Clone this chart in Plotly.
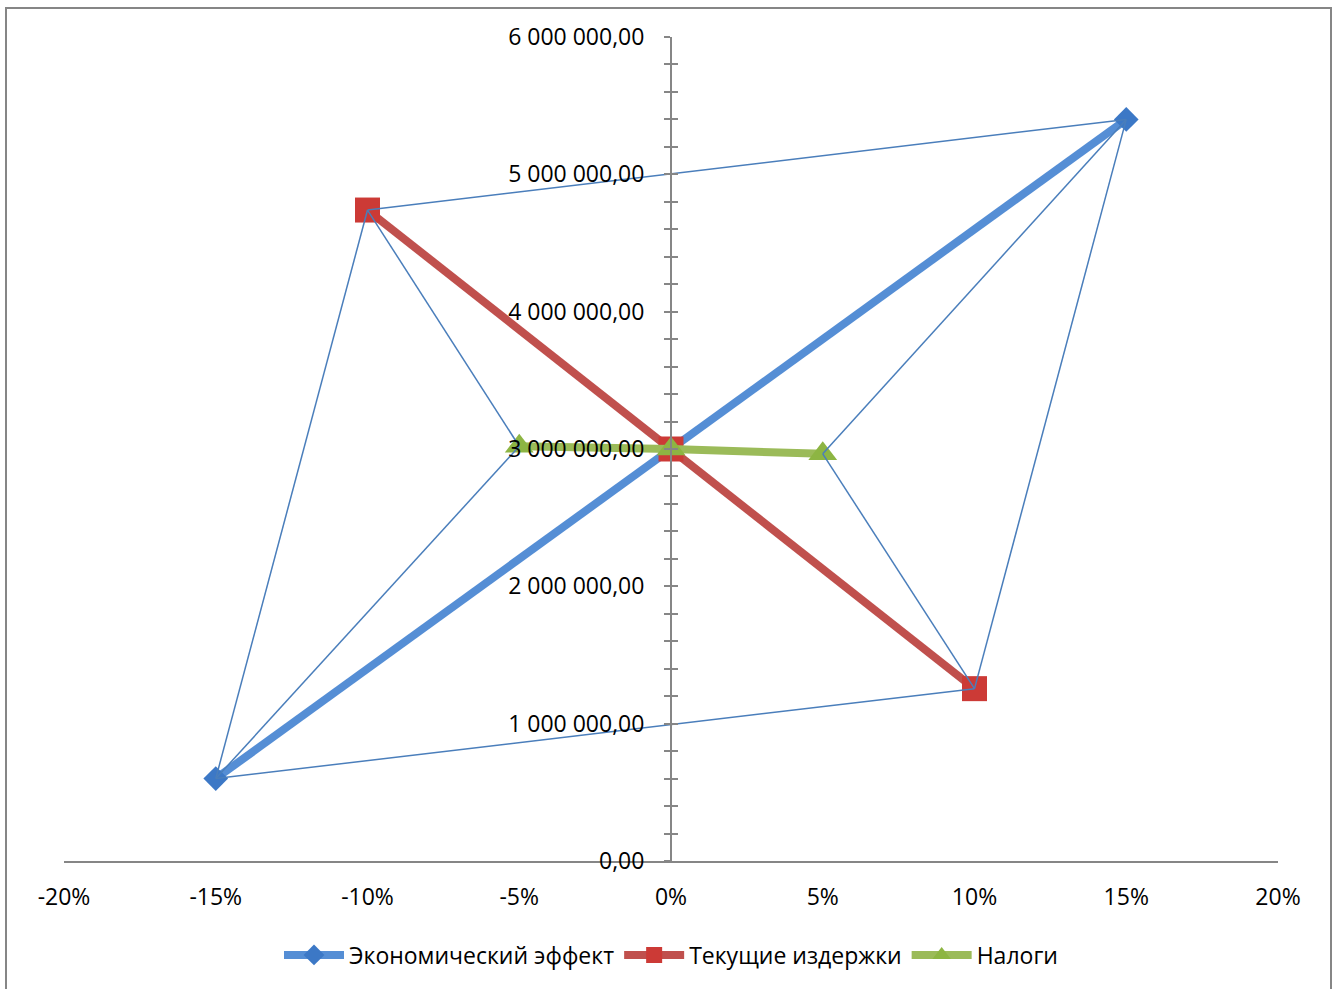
import plotly.graph_objects as go

# ---- data ----
x_levels = [-0.15, 0.0, 0.15]
econ_effect = [600000, 3000000, 5400000]
x_costs = [-0.10, 0.0, 0.10]
current_costs = [4740000, 3000000, 1255000]
x_taxes = [-0.05, 0.0, 0.05]
taxes = [3020000, 3000000, 2965000]

series_names = ["Экономический эффект", "Текущие издержки", "Налоги"]
x_tick_vals = [-0.20, -0.15, -0.10, -0.05, 0.0, 0.05, 0.10, 0.15, 0.20]
x_tick_text = ["-20%", "-15%", "-10%", "-5%", "0%", "5%", "10%", "15%", "20%"]

# thin connector lines between outer points (pairs of (series, index))
connections = [
    (("e", 0), ("c", 0)), (("c", 0), ("e", 2)), (("e", 2), ("c", 2)), (("c", 2), ("e", 0)),
    (("c", 0), ("t", 0)), (("t", 0), ("e", 0)),
    (("e", 2), ("t", 2)), (("t", 2), ("c", 2)),
]

lookup = {"e": (x_levels, econ_effect), "c": (x_costs, current_costs), "t": (x_taxes, taxes)}
cx, cy = [], []
for a, b in connections:
    for s, i in (a, b):
        cx.append(lookup[s][0][i])
        cy.append(lookup[s][1][i])
    cx.append(None)
    cy.append(None)

FONT = "Open Sans"
FS = 23
GRAY = "#868686"

fig = go.Figure()
fig.add_trace(go.Scatter(
    x=x_levels, y=econ_effect, name=series_names[0], mode="lines+markers",
    line=dict(color="#558ED5", width=8),
    marker=dict(symbol="diamond", size=19, color="#3C78C6"),
))
fig.add_trace(go.Scatter(
    x=x_costs, y=current_costs, name=series_names[1], mode="lines+markers",
    line=dict(color="#C0504D", width=8),
    marker=dict(symbol="square", size=25, color="#CC3A36"),
))
fig.add_trace(go.Scatter(
    x=x_taxes, y=taxes, name=series_names[2], mode="lines+markers",
    line=dict(color="#9BBB59", width=8),
    marker=dict(symbol="triangle-up", size=25, color="#8DB543"),
))
fig.add_trace(go.Scatter(
    x=cx, y=cy, mode="lines", showlegend=False, hoverinfo="skip",
    line=dict(color="#4A7EBB", width=1.5), connectgaps=False,
))
# invisible trace to carry the cross-tick overlay axis
fig.add_trace(go.Scatter(
    x=x_levels, y=econ_effect, yaxis="y2", mode="lines", opacity=0,
    showlegend=False, hoverinfo="skip",
))

fig.update_layout(
    width=1338, height=989,
    margin=dict(l=64, r=60, t=37, b=128, autoexpand=False),
    paper_bgcolor="white", plot_bgcolor="white",
    separators=", ",
    font=dict(family=FONT, size=FS, color="black"),
    showlegend=True,
    legend=dict(
        orientation="h", x=0.5, xanchor="center", y=-0.114, yanchor="middle",
        font=dict(family=FONT, size=FS, color="black"),
        itemwidth=60, tracegroupgap=0, bgcolor="rgba(0,0,0,0)",
    ),
    xaxis=dict(
        range=[-0.2, 0.2], tickmode="array", tickvals=x_tick_vals, ticktext=x_tick_text,
        showline=True, linecolor=GRAY, linewidth=2, showgrid=False, zeroline=False,
        ticks="", ticklabelstandoff=14, domain=[0, 1],
        tickfont=dict(family=FONT, size=FS, color="black"),
    ),
    yaxis=dict(
        range=[0, 6000000], tickmode="linear", tick0=0, dtick=1000000,
        tickformat=",.2f", anchor="free", position=0.5,
        showline=True, linecolor=GRAY, linewidth=2, showgrid=False, zeroline=False,
        ticks="outside", ticklen=6, tickwidth=2, tickcolor=GRAY,
        minor=dict(dtick=200000, tick0=0, ticks="outside", ticklen=6, tickwidth=2, tickcolor=GRAY),
        ticklabelstandoff=15,
        tickfont=dict(family=FONT, size=FS, color="black"),
    ),
    yaxis2=dict(
        range=[0, 6000000], overlaying="y", anchor="free", position=0.5,
        tickmode="linear", tick0=0, dtick=1000000, showticklabels=False,
        showline=False, showgrid=False, zeroline=False,
        ticks="inside", ticklen=6, tickwidth=2, tickcolor=GRAY,
        minor=dict(dtick=200000, tick0=0, ticks="inside", ticklen=6, tickwidth=2, tickcolor=GRAY),
    ),
    shapes=[dict(
        type="rect", xref="paper", yref="paper",
        x0=(6 - 64) / 1214, x1=(1331 - 64) / 1214,
        y0=(861 - 1000) / 824, y1=(861 - 8) / 824,
        line=dict(color=GRAY, width=2), fillcolor="rgba(0,0,0,0)", layer="below",
    )],
)

fig.write_html("out.html")
